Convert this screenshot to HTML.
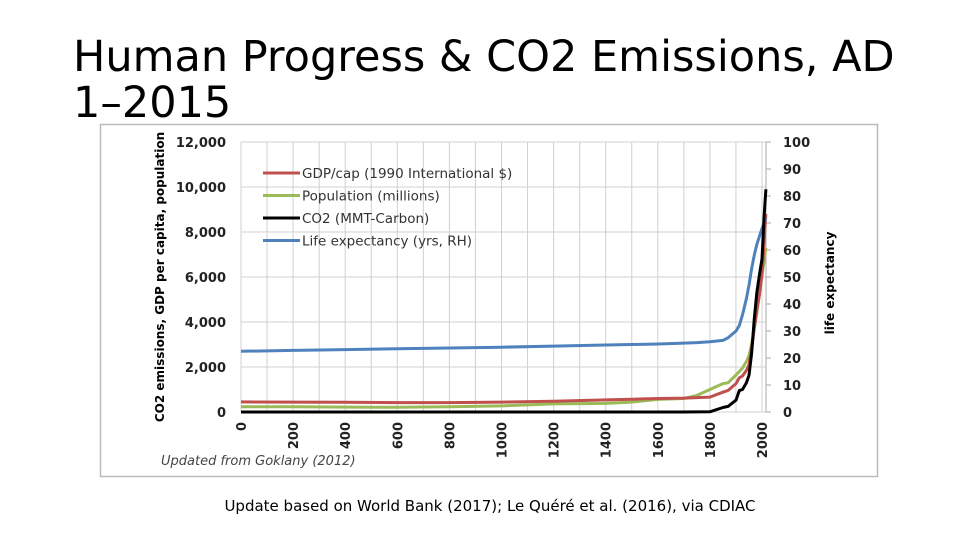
<!DOCTYPE html>
<html><head><meta charset="utf-8"><style>
body{margin:0;width:980px;height:547px;background:#fff;overflow:hidden;font-family:"DejaVu Sans","Liberation Sans",sans-serif}
#title{position:absolute;left:73px;top:34px;font-size:43px;line-height:46px;color:#000;margin:0;font-weight:normal}
#foot{position:absolute;left:0;width:980px;top:497px;text-align:center;font-size:15px;color:#000}
svg{position:absolute;left:0;top:0}
</style></head><body>
<h1 id="title">Human Progress &amp; CO2 Emissions, AD<br>1–2015</h1>
<div id="foot">Update based on World Bank (2017); Le Quéré et al. (2016), via CDIAC</div>
<svg id="chart" width="980" height="547"></svg>
<script>
const years=[0,200,400,600,800,1000,1200,1400,1500,1600,1700,1750,1800,1850,1870,1900,1913,1925,1940,1950,1960,1970,1980,1990,2000,2008,2015];
const gdp=[450,440,430,420,420,440,480,540,570,600,620,640,660,880,960,1260,1520,1600,1850,2100,2800,3700,4500,5200,6100,7600,8800];
const pop=[230,230,220,210,230,270,360,380,440,560,600,740,1000,1260,1300,1650,1800,1950,2250,2500,3000,3700,4400,5300,6100,6700,7300];
const co2=[0,0,0,0,0,0,0,0,0,0,0,3,8,200,250,530,950,1000,1300,1630,2600,4100,5300,6100,6800,8700,9900];
const life=[22.5,22.8,23.1,23.4,23.7,24,24.4,24.8,25,25.2,25.5,25.7,26,26.5,27.5,30,32,36,42,47,53,58,62,65,68,70,72];
const leftTicks=[0,2000,4000,6000,8000,10000,12000];
const rightTicks=[0,10,20,30,40,50,60,70,80,90,100];
const xTicks=[0,200,400,600,800,1000,1200,1400,1600,1800,2000];
const X0=241,X1=762,Y0=412,Y1=142;
const sx=v=>X0+(v/2000)*(X1-X0);
const syL=v=>Y0-(v/12000)*(Y0-Y1);
const syR=v=>Y0-(v/100)*(Y0-Y1);
const svg=document.getElementById('chart');
const NS='http://www.w3.org/2000/svg';
function mk(t,a,p){const e=document.createElementNS(NS,t);for(const k in a)e.setAttribute(k,a[k]);(p||svg).appendChild(e);return e;}
const frame=mk('rect',{x:100.5,y:124.5,width:777,height:352,fill:'#fff',stroke:'#bbb','stroke-width':1.5});


for(let y=0;y<=2000;y+=100){const l=mk('line',{x1:sx(y),x2:sx(y),y1:Y1,y2:Y0,stroke:'#d0d0d0','stroke-width':1});

}
leftTicks.forEach(v=>{const l=mk('line',{x1:X0,x2:766,y1:syL(v),y2:syL(v),stroke:'#d0d0d0','stroke-width':1});


const t=mk('text',{x:226,y:syL(v)+5,'text-anchor':'end','font-size':13,'font-weight':'bold',fill:'#222'});t.textContent=v.toLocaleString('en-US');

});
mk('line',{x1:766,x2:766,y1:Y1,y2:Y0,stroke:'#aaa'});
rightTicks.forEach(v=>{mk('line',{x1:766,x2:771,y1:syR(v),y2:syR(v),stroke:'#aaa'});
const t=mk('text',{x:783,y:syR(v)+5,'font-size':13,'font-weight':'bold',fill:'#222'});t.textContent=v;

});
xTicks.forEach(v=>{const t=mk('text',{x:0,y:0,'font-size':13,'font-weight':'bold',fill:'#222','text-anchor':'end',transform:`translate(${sx(v)+5},${Y0+10}) rotate(-90)`});t.textContent=v;

});
const yl=mk('text',{x:0,y:0,'font-size':12,'font-weight':'bold','text-anchor':'middle',transform:`translate(164,277) rotate(-90)`});yl.textContent='CO2 emissions, GDP per capita, population';


const yr=mk('text',{x:0,y:0,'font-size':12,'font-weight':'bold','text-anchor':'middle',transform:`translate(834,283) rotate(-90)`});yr.textContent='life expectancy';


function line(arr,sy,col,name,w){const d=arr.map((v,i)=>(i?'L':'M')+sx(years[i]).toFixed(1)+','+sy(v).toFixed(1)).join('');
const p=mk('path',{d:d,fill:'none',stroke:col,'stroke-width':w||3,'stroke-linejoin':'round'});

}
line(pop,syL,'#9bbb59','population-line');
line(gdp,syL,'#c0504d','gdp-line');
line(life,syR,'#4f81bd','life-expectancy-line');
line(co2,syL,'#000','co2-line');
const leg=[['GDP/cap (1990 International $)','#c0504d'],['Population (millions)','#9bbb59'],['CO2 (MMT-Carbon)','#000'],['Life expectancy (yrs, RH)','#4f81bd']];
leg.forEach((e,i)=>{const y=173+i*22.5;mk('line',{x1:263,x2:300,y1:y,y2:y,stroke:e[1],'stroke-width':3});
const t=mk('text',{x:302,y:y+5,'font-size':13.5,fill:'#333'});t.textContent=e[0];

});
const n=mk('text',{x:161,y:465,'font-size':13,'font-style':'italic',fill:'#444'});n.textContent='Updated from Goklany (2012)';


</script>
</body></html>
